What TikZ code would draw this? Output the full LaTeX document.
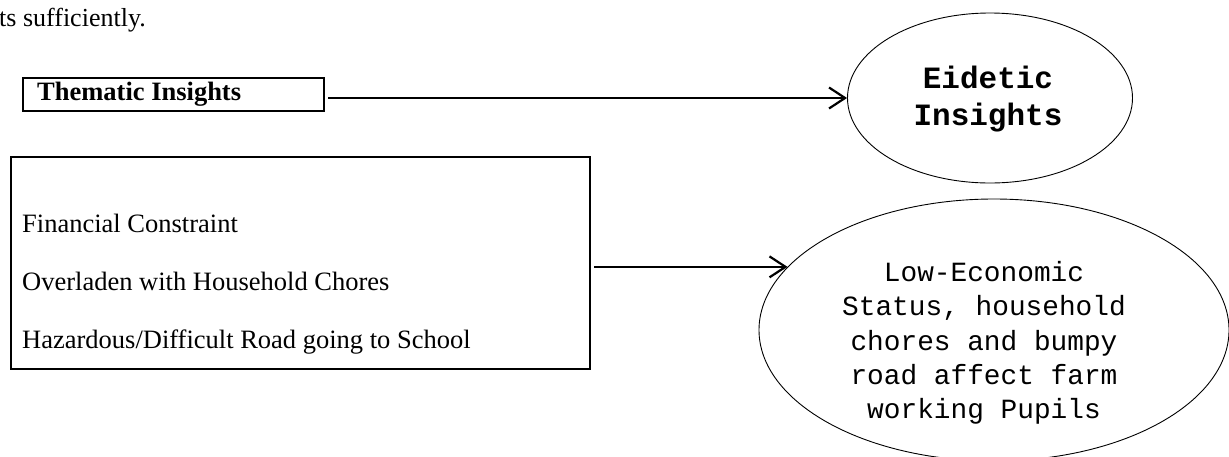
\documentclass[tikz,border=0pt]{standalone}
\usepackage{fontspec}
\usetikzlibrary{shapes.geometric,arrows.meta}
\newfontfamily\serifT{Liberation Serif}
\newfontfamily\monoC{Liberation Mono}
\tikzset{
  boxthick/.style={draw, line width=2.2pt, inner sep=0pt},
  ell/.style={ellipse, draw, line width=0.9pt, inner sep=0pt},
  conn/.style={line width=2.2pt, -{Straight Barb[length=16pt,width=21pt,line width=2.2pt]}},
  lbl/.style={inner sep=0pt, anchor=base west, font=\serifT\fontsize{26.5}{30}\selectfont}
}
\begin{document}
\begin{tikzpicture}[x=1pt,y=-1pt]
\useasboundingbox (0,0) rectangle (1229,456);
% cut-off preceding text
\node[inner sep=0pt, anchor=base west, font=\serifT\fontsize{26}{30}\selectfont] (prev) at (-1,26) {ts sufficiently.};
% thematic box
\node[boxthick, anchor=north west, minimum width=301pt, minimum height=33pt] (them) at (22,77) {};
\node[inner sep=0pt, anchor=base west, font=\serifT\bfseries\fontsize{26.5}{30}\selectfont] (themtxt) at (37,100) {Thematic Insights};
% big box
\node[boxthick, anchor=north west, minimum width=579pt, minimum height=212pt] (big) at (10,156) {};
\node[lbl] (t1) at (22,232) {Financial Constraint};
\node[lbl] (t2) at (22,290) {Overladen with Household Chores};
\node[lbl] (t3) at (22,348) {Hazardous/Difficult Road going to School};
% ellipses
\node[ell, minimum width=285pt, minimum height=170pt] (e1) at (990,98) {};
\node[inner sep=0pt, align=center, font=\monoC\bfseries\fontsize{31}{37}\selectfont] (e1txt) at (988,99.5) {Eidetic\\Insights};
\node[ell, minimum width=470pt, minimum height=262pt] (e2) at (994,330) {};
\node[inner sep=0pt, align=center, font=\monoC\fontsize{27.8}{34.2}\selectfont] (e2txt) at (984,343) {Low-Economic\\Status, household\\chores and bumpy\\road affect farm\\working Pupils};
% connectors
\draw[conn, shorten <=3pt] (them.east |- e1.west) -- (e1.west);
\draw[conn, shorten <=3pt] (big.east |- e2.163) -- (e2.163);
\end{tikzpicture}
\end{document}
